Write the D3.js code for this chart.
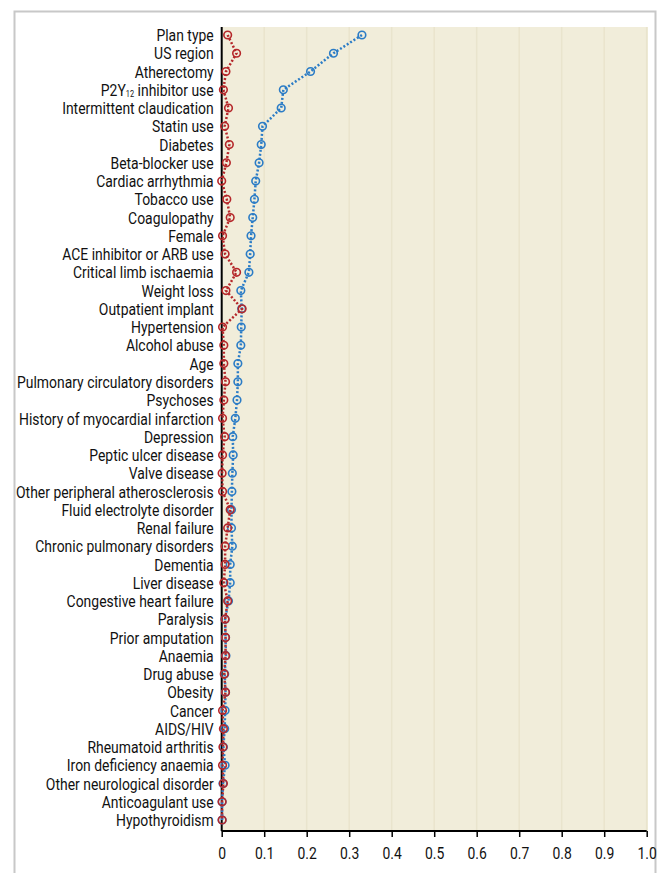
<!DOCTYPE html>
<html><head><meta charset="utf-8">
<script src="https://cdn.jsdelivr.net/npm/d3@7"></script>
<style>body{margin:0;background:#fff;}svg{display:block;}</style>
</head><body><svg id="c" width="664" height="873"></svg>
<script>
const categories = ["Plan type","US region","Atherectomy","P2Y12 inhibitor use","Intermittent claudication","Statin use","Diabetes","Beta-blocker use","Cardiac arrhythmia","Tobacco use","Coagulopathy","Female","ACE inhibitor or ARB use","Critical limb ischaemia","Weight loss","Outpatient implant","Hypertension","Alcohol abuse","Age","Pulmonary circulatory disorders","Psychoses","History of myocardial infarction","Depression","Peptic ulcer disease","Valve disease","Other peripheral atherosclerosis","Fluid electrolyte disorder","Renal failure","Chronic pulmonary disorders","Dementia","Liver disease","Congestive heart failure","Paralysis","Prior amputation","Anaemia","Drug abuse","Obesity","Cancer","AIDS/HIV","Rheumatoid arthritis","Iron deficiency anaemia","Other neurological disorder","Anticoagulant use","Hypothyroidism"];
const blueValues = [0.330,0.263,0.209,0.145,0.140,0.096,0.093,0.088,0.080,0.077,0.073,0.069,0.067,0.064,0.045,0.047,0.046,0.045,0.038,0.038,0.036,0.032,0.026,0.027,0.025,0.024,0.023,0.023,0.025,0.020,0.020,0.016,0.008,0.009,0.010,0.007,0.009,0.008,0.007,0.004,0.008,0.003,0.001,0.001];
const redValues = [0.014,0.035,0.010,0.004,0.016,0.007,0.018,0.011,0.000,0.012,0.020,0.002,0.008,0.035,0.010,0.048,0.002,0.005,0.005,0.009,0.005,0.002,0.007,0.002,0.001,0.002,0.020,0.014,0.008,0.008,0.005,0.014,0.008,0.009,0.009,0.006,0.009,0.002,0.004,0.003,0.002,0.004,0.001,0.001];
const xTicks = [0,0.1,0.2,0.3,0.4,0.5,0.6,0.7,0.8,0.9,1.0];

const svg = d3.select("#c");
const pLeft = 221.7, pRight = 646.7, pTop = 27, pBottom = 831, panelRight = 648;
const x = d3.scaleLinear().domain([0,1]).range([pLeft, pRight]);
const y = d3.scalePoint().domain(categories).range([35, 820]);
const font = "Roboto, 'Liberation Sans', sans-serif";
const fs = 17, sx = 0.82;

// outer frame
svg.append("path").attr("d","M14.5,873 V11.5 H655.5 V873").attr("fill","none").attr("stroke","#c8c8c8").attr("stroke-width",2);

// panel
svg.append("rect").attr("x",pLeft).attr("y",pTop).attr("width",panelRight-pLeft).attr("height",pBottom-pTop).attr("fill","#f1edda");
svg.selectAll("line.grid").data(xTicks.slice(1)).join("line").attr("class","grid")
  .attr("x1",d=>x(d)).attr("x2",d=>x(d)).attr("y1",pTop).attr("y2",pBottom)
  .attr("stroke","#e9e4cd").attr("stroke-width",1.5);

// x axis
const xAxis = d3.axisBottom(x).tickValues(xTicks).tickFormat(d=> d===0?"0":d3.format(".1f")(d)).tickSize(6).tickSizeOuter(0);
const gx = svg.append("g").attr("transform",`translate(0,${pBottom})`).call(xAxis);
gx.select(".domain").attr("stroke","#000").attr("stroke-width",2).attr("d",`M${pLeft},0H${pRight}`);
gx.selectAll(".tick line").attr("stroke","#000").attr("stroke-width",1.5);
gx.selectAll(".tick text").attr("font-family",font).attr("font-size",fs).attr("fill","#111")
  .attr("y",0).attr("dy",0).attr("transform",`translate(0,28) scale(${sx},1)`);

// y axis line
svg.append("line").attr("x1",pLeft).attr("x2",pLeft).attr("y1",pTop).attr("y2",pBottom).attr("stroke","#000").attr("stroke-width",2);

// category labels
const lab = svg.append("g").selectAll("text").data(categories).join("text")
  .attr("transform",d=>`translate(${pLeft-8},${y(d)}) scale(${sx},1)`)
  .attr("dy","0.36em").attr("text-anchor","end")
  .attr("font-family",font).attr("font-size",fs).attr("fill","#111");
lab.each(function(d){
  const t = d3.select(this);
  if (d.startsWith("P2Y12")) {
    t.append("tspan").text("P2Y");
    t.append("tspan").text("12").attr("font-size",9).attr("dy",1.5);
    t.append("tspan").text(" inhibitor use").attr("dy",-1.5);
  } else t.text(d);
});

function series(vals, color){
  const pts = categories.map((c,i)=>[x(vals[i]), y(c)]);
  svg.append("path").attr("d", d3.line()(pts)).attr("fill","none").attr("stroke",color)
    .attr("stroke-width",2.5).attr("stroke-dasharray","2,2");
  svg.append("g").selectAll("circle").data(pts).join("circle")
    .attr("cx",d=>d[0]).attr("cy",d=>d[1]).attr("r",3.8)
    .attr("fill","none").attr("stroke",color).attr("stroke-width",1.6);
}
series(blueValues, "#2b7cc6");
series(redValues, "#b5272a");
</script></body></html>
